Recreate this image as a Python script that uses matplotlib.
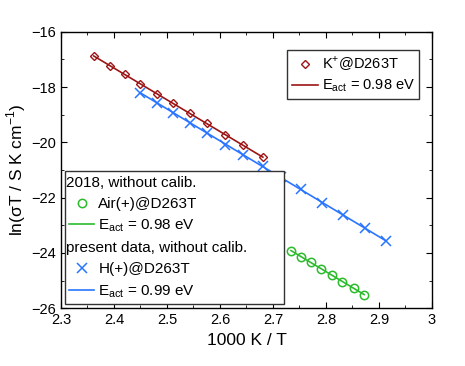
import numpy as np
import matplotlib.pyplot as plt
from matplotlib.lines import Line2D

plt.rcParams['font.family'] = ['Liberation Sans', 'DejaVu Sans']

# K+@D263T
k_x = [2.362, 2.392, 2.421, 2.450, 2.481, 2.512, 2.543, 2.576, 2.609, 2.644, 2.681]
k_y = [-16.89, -17.22, -17.53, -17.89, -18.25, -18.58, -18.95, -19.31, -19.73, -20.11, -20.54]

# H(+)@D263T, present data
h_x = [2.450, 2.481, 2.512, 2.543, 2.576, 2.609, 2.644, 2.681, 2.715, 2.752,
       2.792, 2.832, 2.874, 2.913]
h_y = [-18.22, -18.56, -18.92, -19.29, -19.65, -20.09, -20.46, -20.86, -21.24,
       -21.70, -22.18, -22.62, -23.11, -23.57]

# Air(+)@D263T, 2018
a_x = [2.734, 2.753, 2.772, 2.791, 2.811, 2.830, 2.852, 2.872]
a_y = [-23.92, -24.14, -24.33, -24.58, -24.81, -25.04, -25.26, -25.51]

red = '#9c1414'
blue = '#2a75ff'
green = '#2cbb2c'

fig = plt.figure(figsize=(4.65, 3.66), dpi=100)
ax = fig.add_axes([0.131, 0.158, 0.798, 0.755])


def fit_line(x, y, color):
    p = np.polyfit(x, y, 1)
    xs = np.array([min(x), max(x)])
    return ax.plot(xs, np.polyval(p, xs), color=color, lw=1.2)[0]


lk = fit_line(k_x, k_y, red)
pk, = ax.plot(k_x, k_y, 'D', ms=4.5, mfc='none', mec=red, mew=1.0)
lh = fit_line(h_x, h_y, blue)
ph, = ax.plot(h_x, h_y, 'x', ms=6.5, color=blue, mew=1.1)
la = fit_line(a_x, a_y, green)
pa, = ax.plot(a_x, a_y, 'o', ms=6, mfc='none', mec=green, mew=1.1)

ax.set_xlim(2.3, 3.0)
ax.set_ylim(-26, -16)
ax.set_xticks(np.arange(2.3, 3.01, 0.1))
ax.set_xticklabels(['2.3', '2.4', '2.5', '2.6', '2.7', '2.8', '2.9', '3'])
ax.set_xticks(np.arange(2.35, 3.0, 0.1), minor=True)
ax.set_yticks(np.arange(-26, -15.9, 2))
ax.set_yticks(np.arange(-25, -16, 2), minor=True)
ax.set_yticklabels(['\u221226', '\u221224', '\u221222', '\u221220', '\u221218', '\u221216'])
ax.tick_params(which='both', direction='in', top=True, right=True, labelsize=10.5)
ax.tick_params(which='major', length=4)
ax.tick_params(which='minor', length=2)
for s in ax.spines.values():
    s.set_linewidth(1.0)

ax.set_xlabel('1000 K / T', fontsize=12.5, labelpad=4)
ax.set_ylabel(r'ln($\mathregular{\sigma}$T / S K cm$^{\mathregular{-1}}$)', fontsize=12.5, labelpad=2)

leg1 = ax.legend([pk, lk], [r'K$^{\mathregular{+}}$@D263T', r'E$_{\mathregular{act}}$ = 0.98 eV'],
                 loc='upper right', bbox_to_anchor=(0.985, 0.96), fontsize=10.5,
                 fancybox=False, edgecolor='#333333', framealpha=1,
                 handlelength=1.8, handletextpad=0.25, borderpad=0.3, labelspacing=0.3)
ax.add_artist(leg1)

blank = Line2D([], [], linestyle='none')
leg2 = ax.legend([blank, pa, la, blank, ph, lh],
                 ['2018, without calib.', 'Air(+)@D263T', r'E$_{\mathregular{act}}$ = 0.98 eV',
                  'present data, without calib.', 'H(+)@D263T', r'E$_{\mathregular{act}}$ = 0.99 eV'],
                 loc='lower left', bbox_to_anchor=(0.0, 0.0), fontsize=11,
                 fancybox=False, edgecolor='#333333', framealpha=1,
                 handlelength=1.6, handletextpad=0.3, borderpad=0.3, labelspacing=0.45,
                 borderaxespad=0.25)
for t in (leg2.get_texts()[0], leg2.get_texts()[3]):
    t.set_position((-32, 0))

fig.savefig('out.png', dpi=100)
